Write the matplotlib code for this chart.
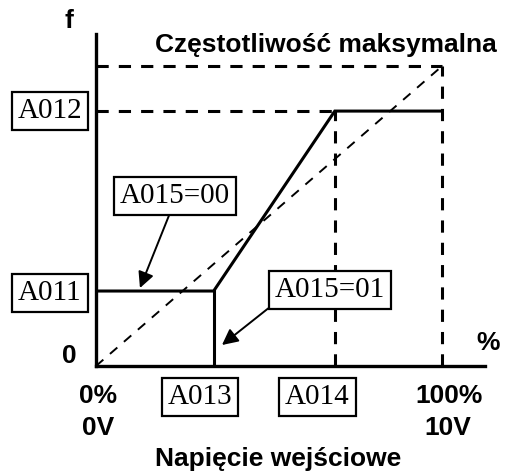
import matplotlib.pyplot as plt

# parameter values, % of max input / % of max frequency
f_max = 100
a011 = 25      # start frequency
a012 = 85      # end frequency
a013 = 34      # start of input range
a014 = 69      # end of input range

serif = 'Liberation Serif'
sans = 'Liberation Sans'
box = dict(boxstyle='square,pad=0.2', fc='white', ec='black', lw=1.6)

fig = plt.figure(figsize=(5.05, 4.72), dpi=100)
ax = fig.add_axes([96 / 505, 106 / 472, 389 / 505, 332 / 472])
ax.set_xlim(0, 112.4)
ax.set_ylim(0, 110.7)
for side in ['top', 'right']:
    ax.spines[side].set_visible(False)
for side in ['left', 'bottom']:
    ax.spines[side].set_linewidth(2.4)
ax.set_xticks([])
ax.set_yticks([])

dash = (0, (4, 3.3))
# guide lines
ax.plot([0, f_max], [f_max, f_max], color='k', lw=2.2, ls=dash)
ax.plot([f_max, f_max], [0, f_max], color='k', lw=2.2, ls=dash)
ax.plot([0, a014], [a012, a012], color='k', lw=2.2, ls=dash)
ax.plot([a014, a014], [0, a012], color='k', lw=2.2, ls=dash)
ax.plot([0, f_max], [0, f_max], color='k', lw=1.4, ls=(0, (5, 4.5)))

# characteristic
ax.plot([0, a013, a014, f_max], [a011, a011, a012, a012], color='k', lw=2.2,
        solid_joinstyle='miter')
ax.plot([a013, a013], [0, a011], color='k', lw=2.2)

# parameter boxes
fs = 21
ax.text(-13.3, a012, 'A012', family=serif, fontsize=fs, ha='center', va='center', bbox=box)
ax.text(-13.3, a011 - 0.7, 'A011', family=serif, fontsize=fs, ha='center', va='center', bbox=box)
ax.text(a013 - 4, -10.3, 'A013', family=serif, fontsize=fs, ha='center', va='center', bbox=box)
ax.text(a014 - 5, -10.3, 'A014', family=serif, fontsize=fs, ha='center', va='center', bbox=box)

arrow = dict(arrowstyle='-|>', color='k', lw=1.4, mutation_scale=24,
             shrinkA=0, shrinkB=0)
ax.annotate('A015=00', xy=(12.7, a011 + 1), xytext=(22.8, 56.7),
            family=serif, fontsize=fs, ha='center', va='center', bbox=box,
            arrowprops=dict(arrow, relpos=(0.47, 0)))
ax.annotate('A015=01', xy=(a013 + 2.4, 7), xytext=(67.6, 25.3),
            family=serif, fontsize=fs, ha='center', va='center', bbox=box,
            arrowprops=dict(arrow, relpos=(0, 0)))

# axis annotations
bold = dict(family=sans, fontsize=19, fontweight='bold')
ax.text(-7.8, 115, 'f', ha='center', va='center', clip_on=False, **bold)
ax.text(17, 104.7, 'Częstotliwość maksymalna', ha='left', va='baseline', **bold)
ax.text(-7.8, 3.3, '0', ha='center', va='center', **bold)
ax.text(113.3, 7.7, '%', ha='center', va='center', **bold)
ax.text(0.6, -12.3, '0%', ha='center', va='baseline', **bold)
ax.text(0.6, -23, '0V', ha='center', va='baseline', **bold)
ax.text(102, -12.3, '100%', ha='center', va='baseline', **bold)
ax.text(101.7, -23, '10V', ha='center', va='baseline', **bold)
ax.text(52.6, -33.3, 'Napięcie wejściowe', ha='center', va='baseline', **bold)

fig.savefig('out.png', dpi=100)
